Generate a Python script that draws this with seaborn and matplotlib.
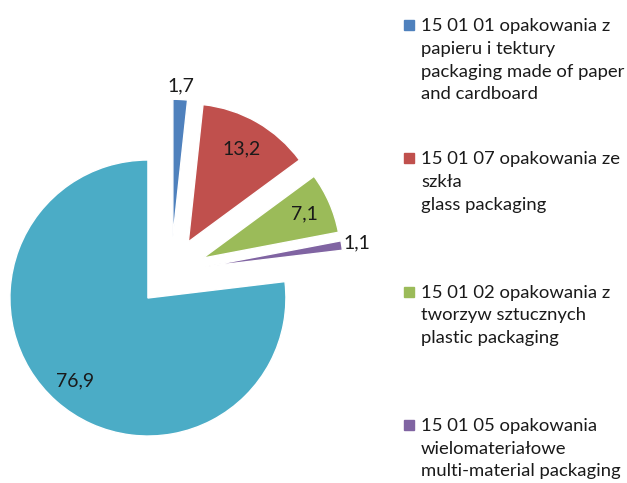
import numpy as np
import matplotlib.pyplot as plt
import seaborn as sns
from matplotlib.patches import Rectangle

# values of the pie, clockwise from 12 o'clock
values = [1.7, 13.2, 7.1, 1.1, 76.9]
value_labels = ['1,7', '13,2', '7,1', '1,1', '76,9']
colors = ['#4F81BD', '#C0504D', '#9BBB59', '#8064A2', '#4BACC6']
legend_labels = [
    '15 01 01 opakowania z\npapieru i tektury\npackaging made of paper\nand cardboard',
    '15 01 07 opakowania ze\nszkła\nglass packaging',
    '15 01 02 opakowania z\ntworzyw sztucznych\nplastic packaging',
    '15 01 05 opakowania\nwielomateriałowe\nmulti-material packaging',
]


def main():
    sns.set_style('white')
    plt.rcParams['font.family'] = ['Lato', 'DejaVu Sans']

    fig = plt.figure(figsize=(6.27, 4.83), dpi=100)
    ax = fig.add_axes([0, 0, 380 / 627, 1])

    # every slice pulled out a bit (Excel style explosion)
    explode = [0.252] * len(values)
    wedges, _ = ax.pie(values, colors=colors, explode=explode, startangle=90,
                       counterclock=False, radius=1)
    # pie centre sits at about (171, 272) px, radius 138 px
    ax.set_xlim(-171 / 138, 209 / 138)
    ax.set_ylim(-211 / 138, 272 / 138)
    ax.set_aspect('auto')

    # value labels: inside for the big slices, outside for the thin ones
    label_dist = [1.1, 0.78, 0.8, 1.11, 0.8]
    for w, txt, r in zip(wedges, value_labels, label_dist):
        ang = np.deg2rad((w.theta1 + w.theta2) / 2)
        cx, cy = w.center
        ax.text(cx + r * np.cos(ang), cy + r * np.sin(ang), txt,
                ha='center', va='center', fontsize=14, color='#1a1a1a')

    # legend, entries evenly spaced like in the original
    for i, (lab, col) in enumerate(zip(legend_labels, colors)):
        yc = 1 - (25 + 133.3 * i) / 483
        fig.add_artist(Rectangle((404 / 627, yc - 5 / 483), 10 / 627, 10 / 483,
                                 transform=fig.transFigure, color=col))
        fig.text(421 / 627, yc + 7 / 483, lab, ha='left', va='top',
                 fontsize=13.3, linespacing=1.52, color='#1a1a1a')

    fig.savefig('out.png', dpi=100)
    plt.close(fig)


if __name__ == '__main__':
    main()
